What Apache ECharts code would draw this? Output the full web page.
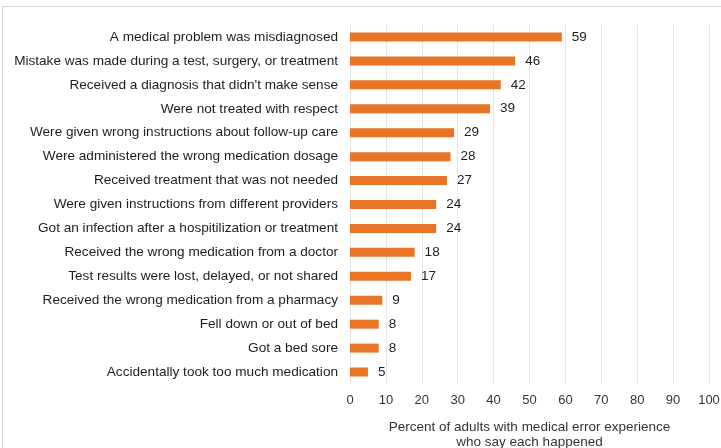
<!DOCTYPE html>
<html>
<head>
<meta charset="utf-8">
<script src="https://cdn.jsdelivr.net/npm/echarts@6/dist/echarts.min.js"></script>
<style>
  html, body { margin: 0; padding: 0; background: #fff; }
  .frame { position: absolute; left: 2px; top: 6px; width: 719px; height: 442px;
           border-top: 1px solid #d9d6d2; border-left: 1px solid #d9d6d2; }
  #chart { position: absolute; left: 0; top: 0; width: 721px; height: 448px; }
</style>
</head>
<body>
<div class="frame"></div>
<div id="chart"></div>
<script>
// top to bottom as shown in the picture
var categories = [
  "A medical problem was misdiagnosed",
  "Mistake was made during a test, surgery, or treatment",
  "Received a diagnosis that didn't make sense",
  "Were not treated with respect",
  "Were given wrong instructions about follow-up care",
  "Were administered the wrong medication dosage",
  "Received treatment that was not needed",
  "Were given instructions from different providers",
  "Got an infection after a hospitilization or treatment",
  "Received the wrong medication from a doctor",
  "Test results were lost, delayed, or not shared",
  "Received the wrong medication from a pharmacy",
  "Fell down or out of bed",
  "Got a bed sore",
  "Accidentally took too much medication"
];
var values = [59, 46, 42, 39, 29, 28, 27, 24, 24, 18, 17, 9, 8, 8, 5];
var axisTitle = "Percent of adults with medical error experience\nwho say each happened";

var chart = echarts.init(document.getElementById("chart"), null, { renderer: "canvas" });
var font = "Liberation Sans, Arial, sans-serif";

chart.setOption({
  animation: false,
  grid: { left: 350, right: 12, top: 25, bottom: 64, outerBoundsMode: "none", containLabel: false },
  xAxis: {
    type: "value",
    min: 0,
    max: 100,
    interval: 10,
    name: axisTitle,
    nameLocation: "middle",
    nameGap: 36,
    nameTextStyle: { color: "#333", fontSize: 13.5, fontFamily: font, lineHeight: 15 },
    axisLine: { show: false },
    axisTick: { show: false },
    axisLabel: { color: "#333", fontSize: 13, fontFamily: font, margin: 10 },
    splitLine: { show: true, lineStyle: { color: "#e4e6ea", width: 1 } }
  },
  yAxis: {
    type: "category",
    inverse: true,
    data: categories,
    axisLine: { show: false },
    axisTick: { show: false },
    axisLabel: { color: "#1e1e1e", fontSize: 13.6, fontFamily: font, margin: 12 }
  },
  series: [
    {
      type: "bar",
      data: values,
      barWidth: 9,
      itemStyle: { color: "#e87425" },
      label: {
        show: true,
        position: "right",
        distance: 10,
        color: "#1e1e1e",
        fontSize: 13.5,
        fontFamily: font
      }
    }
  ]
});
</script>
</body>
</html>
